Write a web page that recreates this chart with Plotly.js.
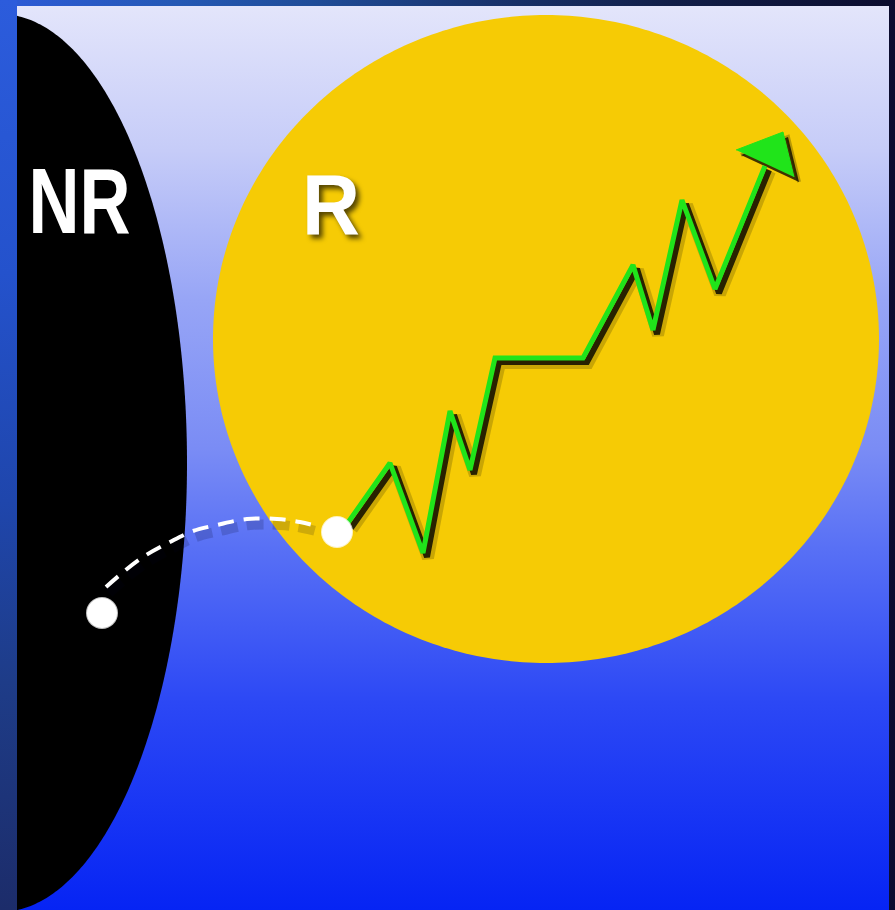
<!DOCTYPE html>
<html><head><meta charset="utf-8">
<script src="https://cdn.plot.ly/plotly-3.0.1.min.js"></script>
<style>html,body{margin:0;padding:0;background:#10143a;overflow:hidden}#chart{width:895px;height:910px}</style>
</head><body><div id="chart"></div>
<script>
// ---- diagram geometry (pixel-like data units) ----
const canvasW = 895, canvasH = 910;
const panelX = [17, 889];
const panelY = [6, 910];
// black "NR" region: ellipse centre and radii
const nrCenter = [0, 463];
const nrRadii = [187, 449];
// yellow "R" region
const rCenter = [546, 339];
const rRadii = [333, 324];
// green zigzag
const zigX = [347, 390, 423, 450, 470, 495, 583, 633, 653, 682, 715, 765];
const zigY = [524, 463, 553, 411, 470, 358, 358, 265, 330, 200, 289, 166];
// arrow head
const headX = [736, 783, 794];
const headY = [150, 132, 177];
// dashed path from NR into R
const pathX = [106, 140, 170, 193, 217, 247, 277, 300, 320];
const pathY = [587, 559, 542, 531, 525, 519, 519, 522, 527];
// white dots
const dotX = [102, 337];
const dotY = [613, 532];
// labels
const labels = ['NR', 'R'];
const labelX = [79, 331];
const labelY = [201, 204];
const labelSize = [92, 86];
const labelLen = [102, 58];

function ellipsePts(c, r, t0, t1, n) {
  const xs = [], ys = [];
  for (let i = 0; i <= n; i++) {
    const t = t0 + (t1 - t0) * i / n;
    xs.push(c[0] + r[0] * Math.cos(t));
    ys.push(c[1] + r[1] * Math.sin(t));
  }
  return [xs, ys];
}
const th0 = Math.acos((panelX[0] - nrCenter[0]) / nrRadii[0]);
const nr = ellipsePts(nrCenter, nrRadii, -th0, th0, 240);
const yc = ellipsePts(rCenter, rRadii, 0, 2 * Math.PI, 360);

const rect = (x0, x1, y0, y1) => [[x0, x1, x1, x0, x0], [y0, y0, y1, y1, y0]];
const shift = (arr, d) => arr.map(v => v + d);
const skip = {hoverinfo: 'skip', showlegend: false};

const outer = rect(0, canvasW, 0, canvasH);
const strip = rect(0, panelX[0], 0, canvasH);
const panel = rect(panelX[0], panelX[1], panelY[0], panelY[1]);

const traces = [
  Object.assign({x: outer[0], y: outer[1], mode: 'none', fill: 'toself',
    fillgradient: {type: 'horizontal', start: 0, stop: canvasW,
      colorscale: [[0, '#2c5ad8'], [0.2, '#2458b4'], [0.35, '#1f4c98'], [0.55, '#18326c'], [0.75, '#111e48'], [1, '#0b0c2e']]}}, skip),
  Object.assign({x: strip[0], y: strip[1], mode: 'none', fill: 'toself',
    fillgradient: {type: 'vertical', start: 0, stop: canvasH,
      colorscale: [[0, '#2c5cdc'], [0.3, '#2452cc'], [0.55, '#1f46ac'], [0.75, '#1e3c88'], [1, '#1c2c6a']]}}, skip),
  Object.assign({x: panel[0], y: panel[1], mode: 'none', fill: 'toself',
    fillgradient: {type: 'vertical', start: panelY[0], stop: panelY[1],
      colorscale: [[0, '#e3e5fb'], [0.16, '#c6ccf8'], [0.325, '#97a5f6'], [0.49, '#7a8cf5'], [0.6, '#5870f5'], [0.77, '#2c48f5'], [1, '#0624f4']]}}, skip),
  Object.assign({x: nr[0].concat([panelX[0], nr[0][0]]), y: nr[1].concat([nr[1][nr[1].length - 1], nr[1][0]]),
    mode: 'none', fill: 'toself', fillcolor: '#000000'}, skip),
  Object.assign({x: yc[0], y: yc[1], mode: 'none', fill: 'toself', fillcolor: '#f6cb05'}, skip),
  // dashed path shadow + line
  Object.assign({x: shift(pathX, 3), y: shift(pathY, 6), mode: 'lines',
    line: {color: 'rgba(0,0,30,0.16)', width: 10, dash: '17px,9px', shape: 'spline'}}, skip),
  Object.assign({x: pathX, y: pathY, mode: 'lines',
    line: {color: '#ffffff', width: 4, dash: '16px,10px', shape: 'spline'}}, skip),
  // zigzag shadows
  Object.assign({x: shift(zigX, 5), y: shift(zigY, 5), mode: 'lines',
    line: {color: 'rgba(0,0,0,0.18)', width: 12}}, skip),
  Object.assign({x: shift(zigX, 4), y: shift(zigY, 4), mode: 'lines',
    line: {color: 'rgba(0,0,0,0.8)', width: 6}}, skip),
  Object.assign({x: shift(headX, 5), y: shift(headY, 5), mode: 'lines', fill: 'toself',
    fillcolor: 'rgba(0,0,0,0.75)', line: {color: 'rgba(0,0,0,0.25)', width: 4}}, skip),
  // zigzag + head
  Object.assign({x: zigX, y: zigY, mode: 'lines', line: {color: '#20e41a', width: 5}}, skip),
  Object.assign({x: headX, y: headY, mode: 'lines', fill: 'toself', fillcolor: '#20e41a',
    line: {color: '#20e41a', width: 1}}, skip),
  // dots
  Object.assign({x: dotX, y: dotY, mode: 'markers',
    marker: {size: 32, color: 'rgba(255,255,255,0.75)', line: {width: 0}}}, skip),
  Object.assign({x: dotX, y: dotY, mode: 'markers',
    marker: {size: 30, color: '#ffffff', line: {width: 0}}}, skip)
];

const annotations = labels.map((t, i) => ({
  text: t, x: labelX[i], y: labelY[i], xref: 'x', yref: 'y',
  showarrow: false, xanchor: 'center', yanchor: 'middle',
  font: {family: '"Liberation Sans", Arial, sans-serif', weight: 'bold',
    size: labelSize[i], color: '#ffffff', shadow: '4px 4px 5px rgba(0,0,0,0.65)'}
}));

const layout = {
  width: canvasW, height: canvasH,
  margin: {l: 0, r: 0, t: 0, b: 0, pad: 0},
  paper_bgcolor: '#10143a', plot_bgcolor: 'rgba(0,0,0,0)',
  xaxis: {range: [0, canvasW], visible: false, fixedrange: true},
  yaxis: {range: [canvasH, 0], visible: false, fixedrange: true},
  showlegend: false,
  annotations: annotations
};
Plotly.newPlot('chart', traces, layout, {staticPlot: true, displayModeBar: false}).then(gd => {
  // condensed lettering as in the original artwork
  gd.querySelectorAll('text.annotation-text').forEach((el, i) => {
    el.setAttribute('textLength', labelLen[i]);
    el.setAttribute('lengthAdjust', 'spacingAndGlyphs');
  });
});
</script>
</body></html>
